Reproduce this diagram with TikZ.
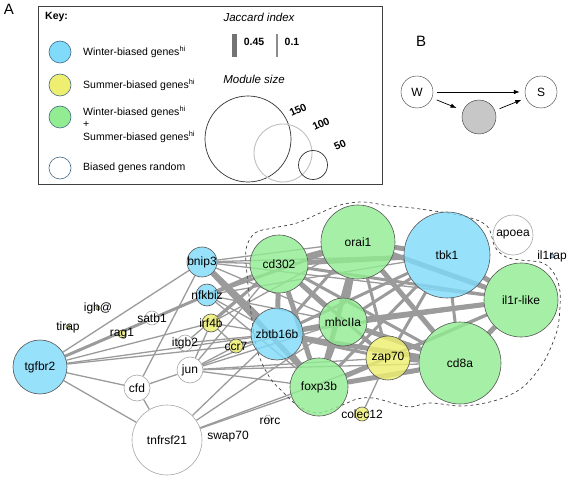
\documentclass[tikz,border=0pt]{standalone}
\usepackage{fontspec}
\setmainfont{Liberation Sans}
\usetikzlibrary{arrows.meta}
\pgfdeclarelayer{edges}
\pgfsetlayers{edges,main}
\definecolor{winterblue}{RGB}{128,218,250}
\definecolor{summeryellow}{RGB}{238,238,112}
\definecolor{bothgreen}{RGB}{146,236,146}
\definecolor{linkgray}{RGB}{155,155,155}
\definecolor{keyrim}{RGB}{70,105,135}
\tikzset{
  gene/.style={circle, draw={rgb,255:red,85;green,85;blue,85}, line width=0.6pt, inner sep=0pt, fill opacity=0.82},
  winter/.style={gene, fill=winterblue},
  summer/.style={gene, fill=summeryellow},
  both/.style={gene, fill=bothgreen},
  random/.style={gene, fill=white, draw=black!35},
  glabel/.style={font=\fontsize{12}{14}\selectfont, inner sep=0pt},
  keytext/.style={font=\fontsize{10.5}{12.5}\selectfont, anchor=west, inner sep=0pt},
  keydot/.style={circle, draw=keyrim, line width=0.6pt, minimum size=22pt, inner sep=0pt},
  link/.style={draw=linkgray, line width=1.3pt},
  midlink/.style={draw=linkgray, line width=3pt},
  fatlink/.style={draw=linkgray, line width=5pt},
}
\begin{document}
\begin{tikzpicture}[x=1pt,y=-1pt]
\useasboundingbox (0,0) rectangle (567,478);
% panel letters
\node[font=\fontsize{15}{16}\selectfont] (panelA) at (9,9) {A};
\node[font=\fontsize{15}{16}\selectfont] (panelB) at (421,41) {B};
% key
\draw[draw=black!75, line width=0.8pt] (38,6) rectangle (382,184);
\node[keytext, font=\fontsize{10.5}{12.5}\selectfont\bfseries] (keyhead) at (45,17) {Key:};
\node[keydot, fill=winterblue] (kwinter) at (60,52) {};
\node[keydot, fill=summeryellow] (ksummer) at (60,85) {};
\node[keydot, fill=bothgreen] (kboth) at (60,117) {};
\node[keydot, fill=white] (krandom) at (60,168) {};
\node[keytext] at (83,52) {Winter-biased genes\textsuperscript{hi}};
\node[keytext] at (83,85) {Summer-biased genes\textsuperscript{hi}};
\node[keytext, align=left] at (83,124) {Winter-biased genes\textsuperscript{hi}\\+\\Summer-biased genes\textsuperscript{hi}};
\node[keytext] at (83,168) {Biased genes random};
\node[font=\fontsize{11.5}{13}\selectfont\itshape] (jaccard) at (259,17) {Jaccard index};
\draw[draw=black!55, line width=5pt] (234,34) -- (234,57);
\node[font=\fontsize{10.5}{12}\selectfont\bfseries] at (254,42) {0.45};
\draw[draw=black!45, line width=1.3pt] (277,34) -- (277,57);
\node[font=\fontsize{10.5}{12}\selectfont\bfseries] at (292,42) {0.1};
\node[font=\fontsize{11.5}{13}\selectfont\itshape] (modsize) at (254,79) {Module size};
\draw[draw=black!80, line width=0.7pt] (248,139) circle (43);
\draw[draw=black!25, line width=0.9pt] (283,153) circle (29);
\draw[draw=black!80, line width=0.7pt] (313,165) circle (14.5);
\node[font=\fontsize{10.5}{12}\selectfont\bfseries, rotate=25] at (298,110) {150};
\node[font=\fontsize{10.5}{12}\selectfont\bfseries, rotate=25] at (321,124) {100};
\node[font=\fontsize{10.5}{12}\selectfont\bfseries, rotate=25] at (340,145) {50};
% panel B
\node[circle, draw=black!80, minimum size=32pt, inner sep=0pt, font=\fontsize{12}{14}\selectfont] (W) at (417,92) {W};
\node[circle, draw=black!80, minimum size=32pt, inner sep=0pt, font=\fontsize{12}{14}\selectfont] (S) at (541,92) {S};
\node[circle, draw=black!80, fill=black!22, minimum size=34pt, inner sep=0pt] (mid) at (479,117) {};
\draw[-{Latex[length=6pt,width=4.5pt]}, line width=0.7pt, shorten <=4pt, shorten >=5pt] (W) -- (S);
\draw[-{Latex[length=6pt,width=4.5pt]}, line width=0.7pt, shorten <=5pt, shorten >=7pt] (W) -- (mid);
\draw[-{Latex[length=6pt,width=4.5pt]}, line width=0.7pt, shorten <=5pt, shorten >=5pt] (mid) -- (S);
% genes
\node[winter, minimum size=30pt] (bnip3) at (202,262) {};
\node[winter, minimum size=22pt] (nfkbiz) at (207,295) {};
\node[summer, minimum size=4pt] (igh) at (98,308) {};
\node[summer, minimum size=4pt] (tirap) at (68,327) {};
\node[random, minimum size=14pt] (satb1) at (152,318) {};
\node[summer, minimum size=8pt] (rag1) at (122,334) {};
\node[summer, minimum size=18pt] (irf4b) at (211,323) {};
\node[random, minimum size=16pt] (itgb2) at (185,343) {};
\node[summer, minimum size=14pt] (ccr7) at (236,346) {};
\node[winter, minimum size=54pt] (tgfbr2) at (40,367) {};
\node[random, minimum size=26pt] (jun) at (190,370) {};
\node[random, minimum size=26pt] (cfd) at (137,388) {};
\node[random, minimum size=70pt] (tnfrsf21) at (167,440) {};
\node[random, minimum size=2pt, draw=none] (swap70) at (228,437) {};
\node[random, minimum size=6pt] (rorc) at (268,418) {};
\node[winter, minimum size=52pt] (zbtb16b) at (277,334) {};
\node[both, minimum size=58pt] (cd302) at (279,264) {};
\node[both, minimum size=74pt] (orai1) at (358,242) {};
\node[winter, minimum size=86pt] (tbk1) at (447,255) {};
\node[random, minimum size=40pt] (apoea) at (513,235) {};
\node[winter, minimum size=4pt] (il1rap) at (552,256) {};
\node[both, minimum size=74pt] (il1rlike) at (521,300) {};
\node[both, minimum size=48pt] (mhcIIa) at (343,322) {};
\node[summer, minimum size=44pt] (zap70) at (388,358) {};
\node[both, minimum size=82pt] (cd8a) at (460,363) {};
\node[both, minimum size=58pt] (foxp3b) at (319,387) {};
\node[summer, minimum size=14pt] (colec12) at (362,414) {};
% edges and module outline
\begin{pgfonlayer}{edges}
\foreach \a/\b in {tgfbr2/bnip3, tgfbr2/cfd, tgfbr2/tnfrsf21, tgfbr2/irf4b, tgfbr2/zbtb16b, tgfbr2/ccr7,
  bnip3/cfd, bnip3/cd302, bnip3/orai1, bnip3/tbk1, bnip3/mhcIIa, bnip3/il1rlike,
  nfkbiz/cd302, nfkbiz/tbk1, nfkbiz/zbtb16b, nfkbiz/foxp3b, nfkbiz/mhcIIa,
  irf4b/orai1, irf4b/jun, irf4b/zbtb16b, irf4b/ccr7, itgb2/zbtb16b, itgb2/cd302,
  ccr7/zbtb16b, ccr7/mhcIIa, ccr7/jun,
  jun/zbtb16b, jun/cd302, jun/mhcIIa, jun/foxp3b, jun/zap70, jun/cd8a, jun/cfd,
  cfd/tnfrsf21, tnfrsf21/zbtb16b, tnfrsf21/foxp3b, tnfrsf21/mhcIIa, tnfrsf21/zap70,
  zap70/colec12}
  \draw[link] (\a) -- (\b);
\foreach \a/\b in {tgfbr2/cd302, nfkbiz/orai1, irf4b/cd302, tbk1/cd8a, tbk1/mhcIIa, tbk1/zap70,
  cd302/cd8a, cd302/il1rlike, zbtb16b/orai1, zbtb16b/tbk1, zbtb16b/il1rlike, zbtb16b/zap70,
  zbtb16b/foxp3b, mhcIIa/foxp3b, mhcIIa/zap70, orai1/zap70, foxp3b/il1rlike, foxp3b/tbk1,
  zap70/il1rlike, cd302/zap70}
  \draw[midlink] (\a) -- (\b);
\foreach \a/\b in {bnip3/zbtb16b, bnip3/foxp3b, cd302/orai1, orai1/tbk1, cd302/tbk1, tbk1/il1rlike,
  orai1/il1rlike, mhcIIa/cd8a, foxp3b/cd8a, zap70/cd8a, foxp3b/zap70, orai1/mhcIIa, orai1/cd8a,
  zbtb16b/mhcIIa, cd302/mhcIIa, cd302/zbtb16b, cd302/foxp3b, mhcIIa/il1rlike, cd8a/il1rlike,
  zbtb16b/cd8a, foxp3b/orai1}
  \draw[fatlink] (\a) -- (\b);
\draw[dashed, draw=black!75, line width=0.7pt] plot[smooth cycle, tension=0.55] coordinates {
  (246,250) (255,233) (273,228) (297,223) (320,213) (340,205) (363,202) (390,206) (413,208)
  (463,216) (487,226) (495,247) (506,257) (520,260) (543,263) (555,275) (560,292) (559,320)
  (555,337) (543,363) (523,387) (497,400) (463,406) (430,403) (410,407) (393,403) (373,398)
  (357,399) (340,406) (317,413) (297,405) (283,392) (270,378) (258,353) (252,320) (248,285)};
\end{pgfonlayer}
% gene labels
\foreach \g/\t in {bnip3/bnip3, nfkbiz/nfkbiz, igh/igh@, tirap/tirap, satb1/satb1, rag1/rag1,
  irf4b/irf4b, itgb2/itgb2, ccr7/ccr7, tgfbr2/tgfbr2, jun/jun, cfd/cfd, tnfrsf21/tnfrsf21,
  swap70/swap70, zbtb16b/zbtb16b, cd302/cd302, orai1/orai1, tbk1/tbk1, apoea/apoea,
  il1rap/il1rap, il1rlike/il1r-like, mhcIIa/mhcIIa, zap70/zap70, cd8a/cd8a, foxp3b/foxp3b,
  colec12/colec12}
  \node[glabel] at (\g) {\t};
\node[glabel] at (270,421) {rorc};
\end{tikzpicture}
\end{document}
